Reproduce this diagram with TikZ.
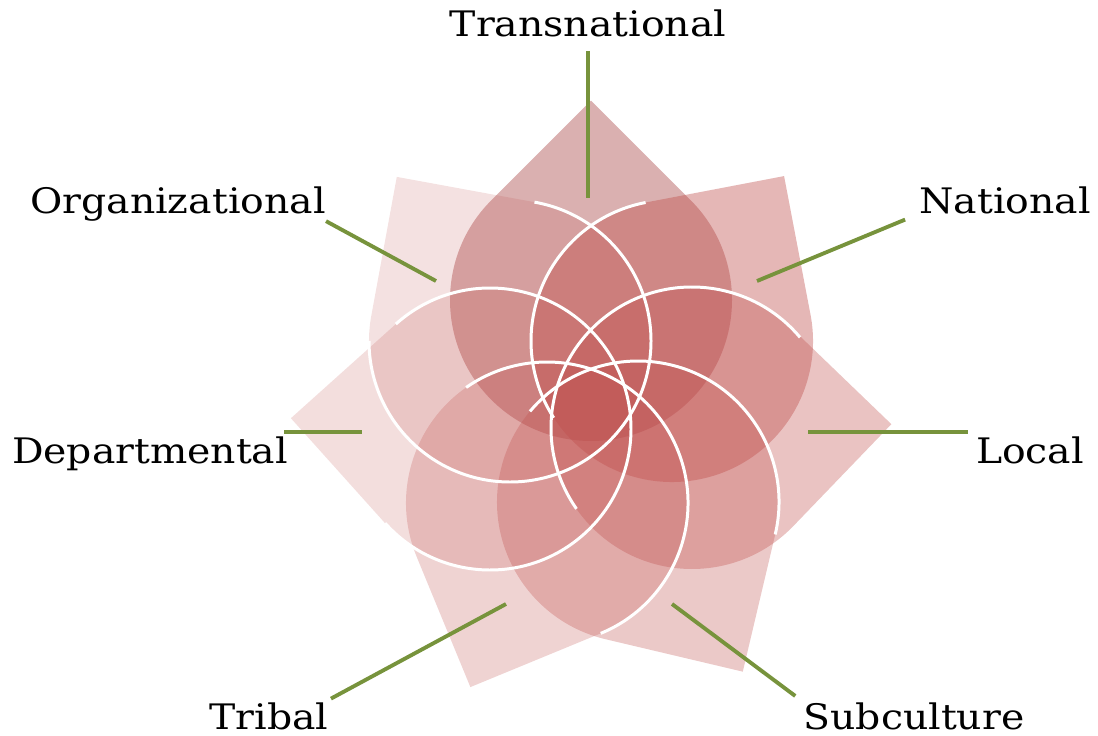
\documentclass[tikz,border=0pt]{standalone}
\usepackage{fontspec}
\setmainfont[FakeStretch=1.12]{DejaVu Serif}
\usetikzlibrary{calc}
\definecolor{petalred}{HTML}{C0504D}
\definecolor{petaldark}{RGB}{173,79,79}
\definecolor{leafgreen}{RGB}{119,147,60}
\tikzstyle{lbl} = [inner sep=0pt, anchor=base, font=\fontsize{20}{24}\selectfont]
\tikzstyle{rim} = [draw=white, line width=1.7pt]
\tikzstyle{leader} = [draw=leafgreen, line width=2.2pt]
% one teardrop: centre, direction of the tip, colour, opacity
\newcommand{\petal}[4]{%
  \begin{scope}[shift={(#1)}, rotate=#2]
    \fill[#3, fill opacity=#4] (199.4,0) -- (45:141) arc[start angle=45, end angle=315, radius=141] -- cycle;
  \end{scope}}
% white edge on part of a teardrop
\newcommand{\rim}[3]{\draw[rim] (#1) ++(#2:141) arc[start angle=#2, end angle=#3, radius=141];}

\begin{document}
\begin{tikzpicture}[x=0.02cm, y=0.02cm]
	\useasboundingbox (0,0) rectangle (1098,735);
	\coordinate (tn-c) at (591,435);
	\coordinate (nat-c) at (672,394);
	\coordinate (loc-c) at (692,307);
	\coordinate (sub-c) at (638,233);
	\coordinate (tri-c) at (547,232);
	\coordinate (dep-c) at (490,306);
	\coordinate (org-c) at (510,394);
	\petal{tn-c}{90}{petaldark}{0.45}
	\petal{nat-c}{55.8}{petalred}{0.41}
	\petal{loc-c}{1.1}{petalred}{0.34}
	\petal{sub-c}{-58.3}{petalred}{0.31}
	\petal{tri-c}{-112.6}{petalred}{0.25}
	\petal{dep-c}{176.9}{petalred}{0.19}
	\petal{org-c}{124.6}{petalred}{0.17}
	\rim{org-c}{180}{440}
	\rim{nat-c}{100.8}{213}
	\rim{loc-c}{40}{215}
	\rim{sub-c}{-13.3}{140}
	\rim{tri-c}{-67.6}{125}
	\rim{dep-c}{221.9}{491.9}
	% labels
	\node[lbl] (tn) at (588,698) {Transnational};
	\node[lbl] (nat) at (1005,522) {National};
	\node[lbl] (loc) at (1030,272) {Local};
	\node[lbl] (sub) at (914,6) {Subculture};
	\node[lbl] (tri) at (269,6) {Tribal};
	\node[lbl] (dep) at (150,272) {Departmental};
	\node[lbl] (org) at (178,522) {Organizational};
	\coordinate (tn-in) at (586,537);
	\coordinate (nat-in) at (757,454);
	\coordinate (loc-in) at (808,304);
	\coordinate (sub-in) at (672,131);
	\coordinate (tri-in) at (506,131);
	\coordinate (dep-in) at (362,304);
	\coordinate (org-in) at (436,454);
	\coordinate (loc-out) at ($(loc.north west)+(0,4)$);
	\coordinate (dep-out) at ($(dep.north east)+(-4,4)$);
	\draw[leader, shorten <=0.26cm] (tn.south) -- (tn.south |- tn-in);
	\draw[leader, shorten <=0.3cm] (nat.south west) -- (nat-in);
	\draw[leader, shorten <=0.16cm] (loc-out) -- (loc-out -| loc-in);
	\draw[leader, shorten <=0.2cm] (sub.north west) -- (sub-in);
	\draw[leader, shorten <=0.14cm] ($(tri.north east)+(-4,0)$) -- (tri-in);
	\draw[leader] (dep-out) -- (dep-out -| dep-in);
	\draw[leader] (org.south east) -- (org-in);
\end{tikzpicture}
\end{document}
